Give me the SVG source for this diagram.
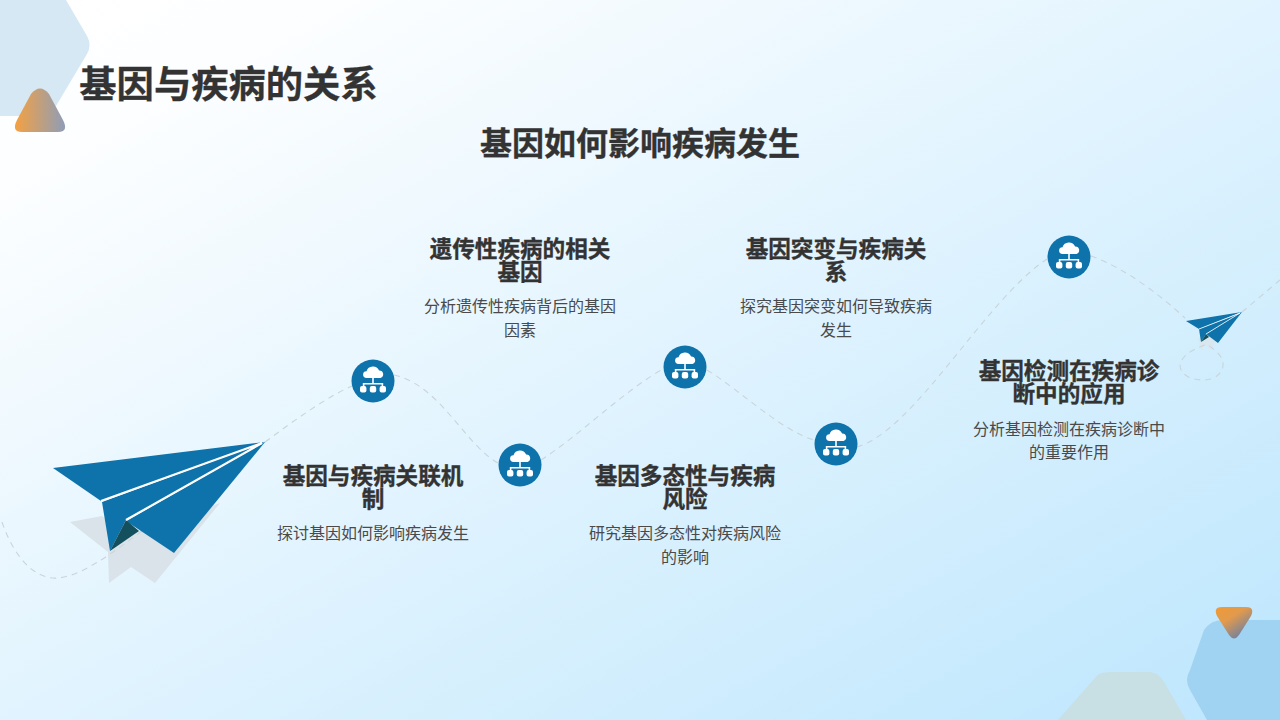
<svg xmlns="http://www.w3.org/2000/svg" width="1280" height="720" viewBox="0 0 1280 720">
<defs>
<linearGradient id="bg" x1="0" y1="0" x2="1" y2="1"><stop offset="0" stop-color="#ffffff"/><stop offset="0.12" stop-color="#fdfeff"/><stop offset="1" stop-color="#bde6fd"/></linearGradient>
<linearGradient id="tri1" x1="0" y1="0" x2="1" y2="0"><stop offset="0" stop-color="#f4a142"/><stop offset="1" stop-color="#8e9db8"/></linearGradient>
<linearGradient id="tri2" x1="0.1" y1="0.1" x2="0.75" y2="0.95"><stop offset="0" stop-color="#ec9a3c"/><stop offset="0.35" stop-color="#e39a4c"/><stop offset="1" stop-color="#6a7fa6"/></linearGradient>
<g id="net">
<circle r="21.5" fill="#0e72ab"/>
<g fill="#fff">
<path d="M-6.500 -3 a3.400 3.400 0 0 1 0 -6.800 a6.800 6.800 0 0 1 12.600 -0.800 a3.900 3.900 0 0 1 1.400 7.600 z"/>
<rect x="-0.800" y="-4" width="1.600" height="7"/>
<path d="M-10.200 7 v-5 h20.400 v5 h-1.600 v-3.400 h-17.200 v3.400 z"/>
<rect x="-13" y="5" width="6.400" height="6.400" rx="2"/>
<rect x="-3.200" y="5" width="6.400" height="6.400" rx="2"/>
<rect x="6.600" y="5" width="6.400" height="6.400" rx="2"/>
</g>
</g>
</defs>
<style>
text{font-family:"Noto Sans CJK SC","Noto Sans",sans-serif;text-anchor:middle}
.t{font-weight:700;fill:#333;stroke:#333;stroke-width:.35}
.h{font-size:22.6px}
.b{font-size:16px;fill:#4a4a4a}
.d{fill:none;stroke:#c9d5db;stroke-width:1.1;stroke-dasharray:6 5}
</style>
<rect width="1280" height="720" fill="url(#bg)"/>
<g id="decor">
<path d="M0 0H66L87 36Q92 45 87 54L50 116H0z" fill="#d5e8f3"/>
<path d="M31 94Q40 83 49 94L63 120Q69 132 58 132H22Q11 132 17 120z" fill="url(#tri1)"/>
<path d="M1204 630Q1211 620 1222 620H1280V720H1207L1190 690Q1184 680 1190 670z" fill="#a0d3f1"/>
<path d="M1095 678Q1098 672 1110 672H1150Q1158 672 1164 682L1186 720H1058z" fill="#c8dfe4"/>
<path d="M1222 607H1246Q1255 607 1251 616L1239 635Q1234 642 1229 635L1217 616Q1213 607 1222 607z" fill="url(#tri2)"/>
<path d="M70 522L102 516L110 523L140 531L220 503L155 583L131 567L109 583L108 552z" fill="#d9e3e9"/>
<path d="M1198 338L1207 332L1216 340L1212 350L1204 344L1202 352z" fill="#dbe7ee"/>
</g>
<g id="connectors">
<path class="d" d="M2 522C12 552 32 580 58 578C100 574 160 510 265 442"/>
<path class="d" d="M265 442C295 420 325 398 352 386"/>
<path class="d" d="M394 375C440 385 465 445 498 463"/>
<path class="d" d="M541 460C580 435 625 390 663 369"/>
<path class="d" d="M707 370C740 390 780 430 814 440"/>
<path class="d" d="M857 447C915 430 985 300 1047 259"/>
<path class="d" d="M1091 256C1125 268 1160 295 1185 318"/>
<path class="d" d="M1205 345C1190 350 1180 358 1180 366C1181 376 1193 380 1203 380C1216 380 1224 372 1223 363C1222 355 1215 350 1208 345"/>
<path class="d" d="M1242 312L1280 280"/>
</g>
<g id="plane-large">
<path d="M53 468L265 442L101 501z" fill="#0e72ab"/>
<path d="M102 502L262 443L126 520L110 551z" fill="#0e72ab"/>
<path d="M126 521L265 442L174 553z" fill="#0e72ab"/>
<path d="M126 520L110 551L139 531z" fill="#134f5c"/>
<path d="M101 501L262 443M126 520L262 443" stroke="#fff" stroke-width="2.200" fill="none"/>
</g>
<g id="plane-small">
<path d="M1186 321L1242 312L1199 329z" fill="#0e72ab"/>
<path d="M1199 329L1241 313L1206 334L1201 342z" fill="#0e72ab"/>
<path d="M1206 334L1242 312L1218 343z" fill="#0e72ab"/>
<path d="M1206 334L1201 342L1209 337z" fill="#134f5c"/>
<path d="M1199 329L1240 313M1206 334L1240 313" stroke="#fff" stroke-width=".8" fill="none"/>
</g>
<g id="title"><text class="t" x="228.500" y="97.500" font-size="37.300">基因与疾病的关系</text></g>
<g id="subtitle"><text class="t" x="640" y="155" font-size="32">基因如何影响疾病发生</text></g>
<g id="node-1"><use href="#net" x="373" y="381"/>
<text class="t h" x="373" y="484">基因与疾病关联机</text><text class="t h" x="373" y="507">制</text>
<text class="b" x="373" y="539">探讨基因如何影响疾病发生</text></g>
<g id="node-2"><use href="#net" x="520" y="465"/>
<text class="t h" x="520" y="257">遗传性疾病的相关</text><text class="t h" x="520" y="280">基因</text>
<text class="b" x="520" y="312">分析遗传性疾病背后的基因</text><text class="b" x="520" y="336">因素</text></g>
<g id="node-3"><use href="#net" x="685" y="367"/>
<text class="t h" x="685" y="484">基因多态性与疾病</text><text class="t h" x="685" y="507">风险</text>
<text class="b" x="685" y="539">研究基因多态性对疾病风险</text><text class="b" x="685" y="563">的影响</text></g>
<g id="node-4"><use href="#net" x="836" y="444"/>
<text class="t h" x="836" y="257">基因突变与疾病关</text><text class="t h" x="836" y="280">系</text>
<text class="b" x="836" y="312">探究基因突变如何导致疾病</text><text class="b" x="836" y="336">发生</text></g>
<g id="node-5"><use href="#net" x="1069" y="257"/>
<text class="t h" x="1069" y="379">基因检测在疾病诊</text><text class="t h" x="1069" y="402">断中的应用</text>
<text class="b" x="1069" y="435">分析基因检测在疾病诊断中</text><text class="b" x="1069" y="458">的重要作用</text></g>
</svg>
